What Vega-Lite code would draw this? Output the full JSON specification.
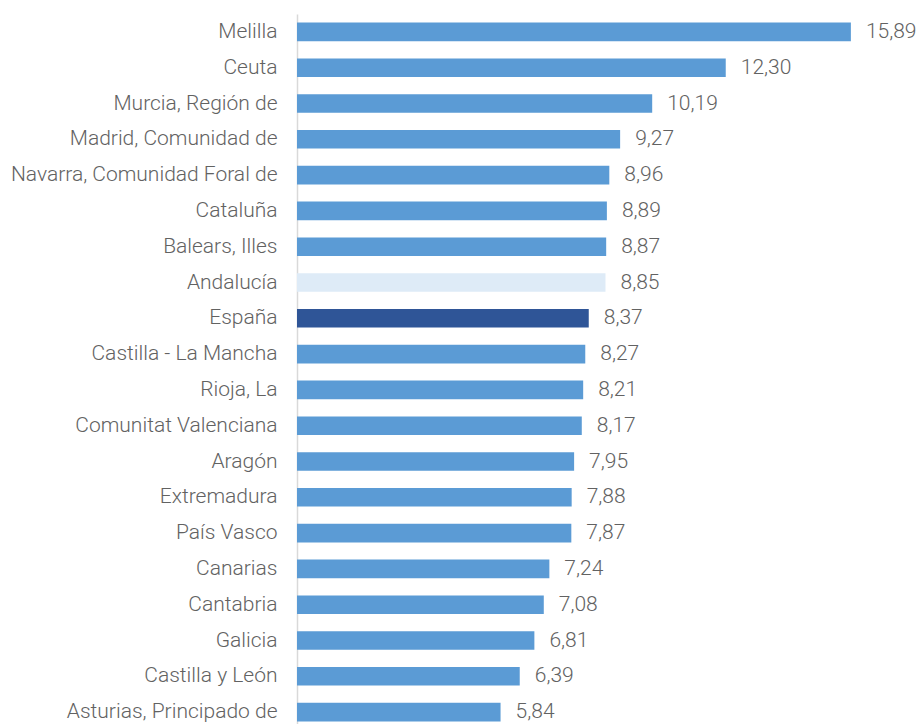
{
  "$schema": "https://vega.github.io/schema/vega-lite/v6.json",
  "width": 610,
  "height": 716,
  "autosize": "none",
  "padding": {"left": 297, "top": 14, "right": 12, "bottom": 0},
  "background": "white",
  "config": {
    "locale": {"number": {"decimal": ",", "thousands": ".", "grouping": [3], "currency": ["", " €"]}},
    "view": {"stroke": null},
    "font": "Roboto"
  },
  "data": {
    "values": [
      {"region": "Melilla", "valor": 15.89},
      {"region": "Ceuta", "valor": 12.30},
      {"region": "Murcia, Región de", "valor": 10.19},
      {"region": "Madrid, Comunidad de", "valor": 9.27},
      {"region": "Navarra, Comunidad Foral de", "valor": 8.96},
      {"region": "Cataluña", "valor": 8.89},
      {"region": "Balears, Illes", "valor": 8.87},
      {"region": "Andalucía", "valor": 8.85},
      {"region": "España", "valor": 8.37},
      {"region": "Castilla - La Mancha", "valor": 8.27},
      {"region": "Rioja, La", "valor": 8.21},
      {"region": "Comunitat Valenciana", "valor": 8.17},
      {"region": "Aragón", "valor": 7.95},
      {"region": "Extremadura", "valor": 7.88},
      {"region": "País Vasco", "valor": 7.87},
      {"region": "Canarias", "valor": 7.24},
      {"region": "Cantabria", "valor": 7.08},
      {"region": "Galicia", "valor": 6.81},
      {"region": "Castilla y León", "valor": 6.39},
      {"region": "Asturias, Principado de", "valor": 5.84}
    ]
  },
  "encoding": {
    "y": {
      "field": "region",
      "type": "nominal",
      "sort": null,
      "scale": {"paddingInner": 0.48, "paddingOuter": 0.24},
      "axis": {
        "title": null,
        "ticks": false,
        "domainColor": "#d9d9d9",
        "domainWidth": 1.5,
        "labelFont": "Roboto",
        "labelFontWeight": 300,
        "labelFontSize": 21,
        "labelColor": "#626262",
        "labelPadding": 20,
        "labelLimit": 400
      }
    },
    "x": {
      "field": "valor",
      "type": "quantitative",
      "scale": {"domain": [0, 17.5], "nice": false},
      "axis": null
    }
  },
  "layer": [
    {
      "mark": {"type": "bar"},
      "encoding": {
        "color": {
          "condition": [
            {"test": "datum.region === 'Andalucía'", "value": "#deebf7"},
            {"test": "datum.region === 'España'", "value": "#2f5597"}
          ],
          "value": "#5b9bd5"
        }
      }
    },
    {
      "mark": {"type": "text", "align": "left", "baseline": "middle", "dx": 15, "font": "Roboto", "fontWeight": 300, "fontSize": 21, "color": "#626262"},
      "encoding": {
        "text": {"field": "valor", "type": "quantitative", "format": ".2f"}
      }
    }
  ]
}
